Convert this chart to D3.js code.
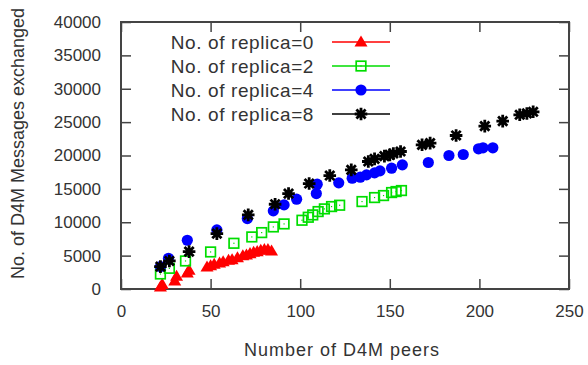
<!DOCTYPE html>
<html><head><meta charset="utf-8">
<script src="https://cdn.jsdelivr.net/npm/d3@7"></script>
<style>body{margin:0;background:#fff}svg{display:block}text{font-family:"Liberation Sans",Arial,sans-serif;fill:#333}</style>
</head><body><svg id="c" width="588" height="365"></svg>
<script>
const xTicks = [0, 50, 100, 150, 200, 250];
const yTicks = [0, 5000, 10000, 15000, 20000, 25000, 30000, 35000, 40000];
const seriesNames = ["No. of replica=0", "No. of replica=2", "No. of replica=4", "No. of replica=8"];

const r0x = [22,23,30,31,37,38,48,50,52,55,57,60,62,65,68,70,72,74,76,78,80,82,84];
const r0y = [300,700,1200,1900,2400,2800,3300,3500,3700,3900,4100,4300,4400,4700,5000,5100,5300,5500,5600,5800,5900,5900,5700];

const r2x = [22,27,36,50,63,73,78.5,85,91,101,104.5,107,110,113.5,117.5,122,134.5,141.5,146.5,151,153.5,156.5];
const r2y = [2250,3100,4200,5550,6850,7800,8450,9300,9750,10300,10750,11100,11600,12000,12350,12550,13100,13700,14000,14450,14600,14750];

const r4x = [22,26.5,37,53.5,70.5,85,91,98,109,109.5,121.5,129,133.5,137,141.5,144.5,151,157,171.5,183,191,199.5,202,207.5];
const r4y = [3350,4600,7300,8850,10550,11700,12600,13450,14300,15700,15900,16600,16750,17100,17400,17700,18100,18600,18950,20000,20150,21000,21150,21150];

const r8x = [22,27,38,53.5,71,86,93.5,105,116.5,128.5,138,141.5,147,150,152,156,168,172.5,187,203,213,222.5,226.5,230];
const r8y = [3350,4200,5600,8300,11100,12700,14300,15800,17000,17850,19100,19500,19900,20100,20300,20600,21600,21850,23000,24400,25150,26100,26300,26550];

const colors = ["#ff0000", "#00dd00", "#0000ff", "#000000"];

const svg = d3.select("#c");
const L = 121, R = 569, T = 22, B = 289;
const x = d3.scaleLinear().domain([0, 250]).range([L, R]);
const y = d3.scaleLinear().domain([0, 40000]).range([B, T]);
const axisCol = "#444";

function styleAxis(g, hideText) {
  g.select(".domain").remove();
  g.selectAll(".tick line").attr("stroke", axisCol).attr("stroke-width", 1.5);
  g.selectAll("text").style("font-size", "17px").attr("fill", "#333");
  if (hideText) g.selectAll("text").remove();
}
svg.append("g").attr("transform", `translate(0,${B})`)
  .call(d3.axisBottom(x).tickValues(xTicks).tickSize(-10).tickPadding(16).tickFormat(d3.format("d")))
  .call(g => styleAxis(g, false));
svg.append("g").attr("transform", `translate(0,${T})`)
  .call(d3.axisTop(x).tickValues(xTicks).tickSize(-10).tickFormat(""))
  .call(g => styleAxis(g, true));
svg.append("g").attr("transform", `translate(${L},0)`)
  .call(d3.axisLeft(y).tickValues(yTicks).tickSize(-10).tickPadding(20).tickFormat(d3.format("d")))
  .call(g => styleAxis(g, false));
svg.append("g").attr("transform", `translate(${R},0)`)
  .call(d3.axisRight(y).tickValues(yTicks).tickSize(-10).tickFormat(""))
  .call(g => styleAxis(g, true));

svg.append("rect").attr("x", L).attr("y", T).attr("width", R - L).attr("height", B - T)
  .attr("fill", "none").attr("stroke", axisCol).attr("stroke-width", 2);

svg.append("text").attr("x", (L + R) / 2 - 3).attr("y", 356).attr("text-anchor", "middle")
  .style("font-size", "18px").style("letter-spacing", "1px").text("Number of D4M peers");
svg.append("text").attr("transform", `translate(24,${(T + B) / 2 - 12}) rotate(-90)`)
  .attr("text-anchor", "middle").style("font-size", "18px").text("No. of D4M Messages exchanged");

function marker(g, kind, cx, cy, col) {
  if (kind === 0) {
    const s = 6.5;
    g.append("path").attr("d", `M${cx},${cy - s}L${cx + s},${cy + s * 0.7}L${cx - s},${cy + s * 0.7}Z`).attr("fill", col);
  } else if (kind === 1) {
    g.append("rect").attr("x", cx - 4.8).attr("y", cy - 4.8).attr("width", 9.6).attr("height", 9.6)
      .attr("fill", "none").attr("stroke", col).attr("stroke-width", 1.7);
    g.append("rect").attr("x", cx - 0.6).attr("y", cy - 0.6).attr("width", 1.2).attr("height", 1.2).attr("fill", col);
  } else if (kind === 2) {
    g.append("circle").attr("cx", cx).attr("cy", cy).attr("r", 5.6).attr("fill", col);
  } else {
    const s = 6.3, d = 4.6;
    g.append("path").attr("d",
      `M${cx - s},${cy}L${cx + s},${cy}M${cx},${cy - s}L${cx},${cy + s}M${cx - d},${cy - d}L${cx + d},${cy + d}M${cx - d},${cy + d}L${cx + d},${cy - d}`)
      .attr("stroke", col).attr("stroke-width", 2.8);
  }
}

const data = [[r0x, r0y], [r2x, r2y], [r4x, r4y], [r8x, r8y]];
data.forEach(([xs, ys], k) => {
  const g = svg.append("g");
  xs.forEach((v, i) => marker(g, k, x(v), y(ys[i]), colors[k]));
});

const legY = [42, 66, 90, 114];
seriesNames.forEach((n, k) => {
  const g = svg.append("g");
  g.append("text").attr("x", 314).attr("y", legY[k] + 7).attr("text-anchor", "end")
    .style("font-size", "19px").style("letter-spacing", "0.6px").text(n);
  g.append("line").attr("x1", 332).attr("x2", 390).attr("y1", legY[k]).attr("y2", legY[k])
    .attr("stroke", colors[k]).attr("stroke-width", 1.5);
  const s = k === 3 ? 0.85 : 1;
  marker(g, k, 361, legY[k], colors[k]);
});
</script></body></html>
